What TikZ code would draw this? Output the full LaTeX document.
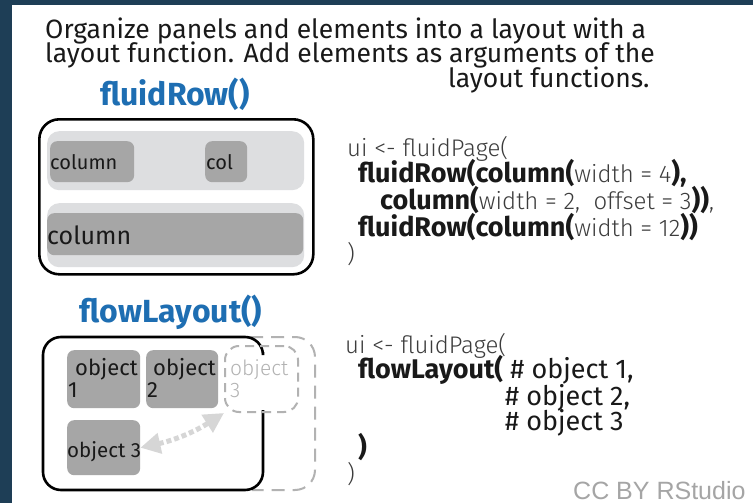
\documentclass[tikz,border=0pt]{standalone}
\usepackage{fontspec}
\setmainfont{Fira Sans}
\newfontfamily\lightfont{Fira Sans Light}
\newfontfamily\ccfont{Liberation Sans}
\usetikzlibrary{arrows.meta}
\definecolor{navy}{RGB}{30,62,86}
\definecolor{titleblue}{RGB}{30,110,178}
\definecolor{rowgray}{RGB}{221,222,224}
\definecolor{colgray}{RGB}{166,166,166}
\definecolor{ghostgray}{RGB}{178,178,178}
\definecolor{arrowgray}{RGB}{214,214,214}
\definecolor{ink}{RGB}{25,25,25}
\definecolor{lightink}{RGB}{60,60,60}
\definecolor{ccgray}{RGB}{165,165,165}
% code fragments: bold calls, light arguments, regular comments
\newcommand\codeb[1]{{\fontsize{27}{27}\selectfont\bfseries #1}}
\newcommand\codel[1]{{\fontsize{24}{24}\lightfont\color{lightink}#1}}
\newcommand\coder[1]{{\fontsize{27}{27}\selectfont #1}}
\tikzset{
  txt/.style={anchor=base west, inner sep=0pt, text=ink},
  title/.style={anchor=base, inner sep=0pt, text=titleblue, font=\fontsize{32}{32}\selectfont\bfseries},
  rowbox/.style={fill=rowgray, rounded corners=12pt, inner sep=0pt, anchor=north west},
  colbox/.style={fill=colgray, rounded corners=7pt, inner sep=0pt, anchor=north west},
  frame/.style={draw=black, line width=2.6pt, rounded corners=20pt, inner sep=0pt, anchor=north west},
  ghostbox/.style={draw=ghostgray, line width=2pt, dash pattern=on 9pt off 6pt, rounded corners=14pt, inner sep=0pt, anchor=north west},
}
\begin{document}
\begin{tikzpicture}[x=1pt,y=-1pt]
\useasboundingbox (0,0) rectangle (753,503);
\fill[white] (0,0) rectangle (753,503);
\fill[navy] (0,0) rectangle (753,5);
\fill[navy] (0,0) rectangle (12,503);

% heading
\begin{scope}[every node/.style={txt, font=\fontsize{26.5}{26.5}\selectfont}]
\node (h1) at (45,39) {Organize panels and elements into a layout with a};
\node (h2) at (45,63) {layout function. Add elements as arguments of the};
\node (h3) at (448,88) {layout functions.};
\end{scope}

% fluidRow diagram
\node[title] (frtitle) at (175,106) {fluidRow()};
\node[rowbox, minimum width=257pt, minimum height=59pt] (row1) at (47,131) {};
\node[colbox, minimum width=84pt, minimum height=41pt] (c1) at (50,141) {};
\node[colbox, minimum width=42pt, minimum height=41pt] (c2) at (205,141) {};
\node[rowbox, minimum width=257pt, minimum height=64pt] (row2) at (47,203) {};
\node[colbox, minimum width=256pt, minimum height=42pt] (c3) at (47,213) {};
\node[frame, minimum width=274pt, minimum height=155pt] (frbox) at (38,118) {};
\node[txt, font=\fontsize{20}{20}\selectfont] (c1t) at (50,169) {column};
\node[txt, font=\fontsize{20}{20}\selectfont] (c2t) at (206,169) {col};
\node[txt, font=\fontsize{25}{25}\selectfont] (c3t) at (47,244) {column};

% fluidRow code
\begin{scope}[every node/.style={txt}]
\node (a1) at (347,156) {\codel{ui <- fluidPage(}};
\node (a2) at (358,182) {\codeb{fluidRow(column(}\codel{width = 4}\codeb{),}};
\node (a3) at (380,209) {\codeb{column(}\codel{width = 2,\ \ offset = 3}\codeb{))}\codel{,}};
\node (a4) at (358,236) {\codeb{fluidRow(column(}\codel{width = 12}\codeb{))}};
\node (a5) at (347,262) {\codel{)}};
\end{scope}

% flowLayout diagram
\node[title] (fltitle) at (171,322) {flowLayout()};
\draw[ghostgray, line width=2pt, dash pattern=on 13pt off 8pt, rounded corners=20pt]
  (250,337) -- (315,337) -- (315,490) -- (252,490);
\draw[black, line width=2.6pt, rounded corners=18pt]
  (263,352) -- (263,337) -- (43,337) -- (43,490) -- (263,490) -- (263,410);
\node[colbox, minimum width=73pt, minimum height=58pt] (o1) at (67,350) {};
\node[colbox, minimum width=72pt, minimum height=58pt] (o2) at (146,350) {};
\node[colbox, minimum width=73pt, minimum height=55pt] (o3) at (67,420) {};
\node[ghostbox, minimum width=73pt, minimum height=66pt] (og) at (224,345) {};
\begin{scope}[every node/.style={txt, font=\fontsize{22}{22}\selectfont}]
\node (o1a) at (75,375) {object};
\node (o1b) at (68,397) {1};
\node (o2a) at (153,375) {object};
\node (o2b) at (147,397) {2};
\node[font=\fontsize{20.5}{20.5}\selectfont] (o3a) at (67,457) {object 3};
\node[text=ghostgray, font=\fontsize{21}{21}\lightfont] (oga) at (230,375) {object};
\node[text=ghostgray, font=\fontsize{21}{21}\lightfont] (ogb) at (230,397) {3};
\end{scope}
\draw[arrowgray, line width=5pt, dash pattern=on 5pt off 3pt,
  {Triangle[length=20pt,width=20pt]}-{Triangle[length=20pt,width=20pt]}]
  (o3.east) to[bend right=10] (og.south west);

% flowLayout code
\begin{scope}[every node/.style={txt}]
\node (b1) at (345,353) {\codel{ui <- fluidPage(}};
\node (b2) at (358,378) {\codeb{flowLayout(}\coder{ \# object 1,}};
\node (b3) at (505,405) {\coder{\# object 2,}};
\node (b4) at (505,430) {\coder{\# object 3}};
\node (b5) at (358,456) {\codeb{)}};
\node (b6) at (347,482) {\codel{)}};
\end{scope}

\node[anchor=base west, inner sep=0pt, text=ccgray, font=\fontsize{25}{25}\ccfont] (cc) at (573,499) {CC BY RStudio};
\end{tikzpicture}
\end{document}
